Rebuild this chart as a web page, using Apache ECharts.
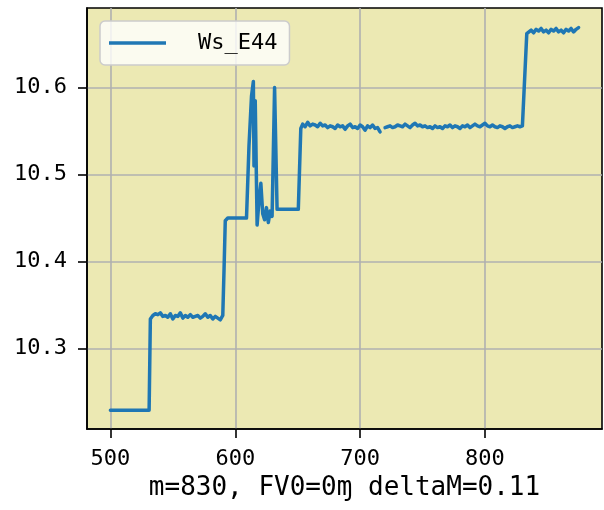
<!DOCTYPE html>
<html>
<head>
<meta charset="utf-8">
<script src="https://cdn.jsdelivr.net/npm/echarts@6/dist/echarts.min.js"></script>
<style>
  html, body { margin: 0; padding: 0; background: #fff; }
  #chart { width: 604px; height: 510px; }
</style>
</head>
<body>
<div id="chart"></div>
<script>
// values
var seriesName = "Ws_E44";
var xLabel = "m=830, FV0=0\u0271 deltaM=0.11";
var xTicks = [500, 600, 700, 800];
var yTicks = [10.3, 10.4, 10.5, 10.6];

var xs = [
  500, 531, 532, 534, 536, 538, 540, 542, 544, 546, 548, 550, 552, 554, 556, 558,
  560, 562, 564, 566, 568, 570, 572, 574, 576, 578, 580, 582, 584, 586, 588, 590,
  591, 592, 594, 609, 611, 613, 614.5, 615, 616, 617.5, 619, 620.5, 622, 623.5,
  625, 626.5, 628, 629.5, 631.5, 633.5, 650.5, 652.5,
  654, 656, 658, 660, 662, 664, 666, 668, 670, 672, 674, 676, 678, 680, 682, 684,
  686, 688, 690, 692, 694, 696, 698, 700, 702, 704, 706, 708, 710, 712, 714, 716,
  718,
  720, 722, 724, 726, 728, 730, 732, 734, 736, 738, 740, 742, 744, 746, 748, 750,
  752, 754, 756, 758, 760, 762, 764, 766, 768, 770, 772, 774, 776, 778, 780, 782,
  784, 786, 788, 790, 792, 794, 796, 798, 800, 802, 804, 806, 808, 810, 812, 814,
  816, 818, 820, 822, 824, 826, 828, 830, 831.5, 833.5,
  835, 837, 839, 841, 843, 845, 847, 849, 851, 853, 855, 857, 859, 861, 863, 865,
  867, 869, 871, 873, 875
];
var ys = [
  10.229, 10.229, 10.334, 10.338, 10.340, 10.339, 10.341, 10.337, 10.338, 10.336, 10.340, 10.334, 10.338, 10.337, 10.341, 10.335,
  10.338, 10.336, 10.339, 10.336, 10.337, 10.338, 10.335, 10.337, 10.340, 10.336, 10.338, 10.334, 10.337, 10.335, 10.333, 10.338,
  10.390, 10.447, 10.450, 10.450, 10.533, 10.590, 10.607, 10.510, 10.585, 10.442, 10.470, 10.490, 10.455, 10.448,
  10.462, 10.445, 10.458, 10.452, 10.600, 10.460, 10.460, 10.553,
  10.558, 10.555, 10.560, 10.556, 10.558, 10.557, 10.555, 10.559, 10.556, 10.557, 10.554, 10.556, 10.555, 10.553, 10.557, 10.555,
  10.556, 10.552, 10.556, 10.558, 10.554, 10.555, 10.553, 10.557, 10.555, 10.551, 10.556, 10.554, 10.557, 10.553, 10.554, 10.549,
  null,
  10.554, 10.555, 10.556, 10.554, 10.555, 10.557, 10.556, 10.555, 10.558, 10.556, 10.554, 10.557, 10.559, 10.556, 10.557, 10.555,
  10.556, 10.554, 10.555, 10.553, 10.556, 10.554, 10.555, 10.553, 10.556, 10.555, 10.557, 10.554, 10.556, 10.555, 10.553, 10.556,
  10.555, 10.557, 10.554, 10.556, 10.558, 10.556, 10.555, 10.557, 10.559, 10.556, 10.555, 10.557, 10.555, 10.554, 10.556, 10.555,
  10.553, 10.555, 10.556, 10.554, 10.555, 10.556, 10.555, 10.556, 10.556, 10.662,
  10.664, 10.666, 10.663, 10.667, 10.665, 10.668, 10.664, 10.666, 10.663, 10.667, 10.665, 10.668, 10.664, 10.666, 10.663, 10.667,
  10.665, 10.668, 10.664, 10.667, 10.669
];

var points = [];
for (var i = 0; i < xs.length; i++) {
  points.push([xs[i], ys[i]]);
}

var mono = "DejaVu Sans Mono";
var myChart = echarts.init(document.getElementById("chart"));
var option = {
  animation: false,
  backgroundColor: "#ffffff",
  grid: {
    left: 87,
    right: 2,
    top: 8,
    bottom: 81,
    show: true,
    backgroundColor: "#ece9b3",
    borderColor: "#000000",
    borderWidth: 1.6
  },
  legend: {
    left: 100,
    top: 21,
    orient: "vertical",
    icon: "rect",
    itemWidth: 57,
    itemHeight: 3.5,
    padding: [11, 12, 11, 9],
    backgroundColor: "rgba(255,255,255,0.8)",
    borderColor: "#cccccc",
    borderWidth: 1.5,
    borderRadius: 5,
    textStyle: {
      fontFamily: mono,
      fontSize: 22,
      color: "#000",
      padding: [0, 0, 0, 27]
    },
    data: [seriesName]
  },
  xAxis: {
    type: "value",
    min: 481.25,
    max: 893.75,
    name: xLabel,
    nameLocation: "middle",
    nameGap: 45,
    nameTextStyle: { fontFamily: mono, fontSize: 26, color: "#000" },
    axisLine: { show: true, onZero: false, lineStyle: { color: "#000", width: 1.6 } },
    axisTick: { show: true, length: 9, lineStyle: { color: "#000", width: 1.6 }, customValues: xTicks },
    axisLabel: { fontFamily: mono, fontSize: 22, color: "#000", margin: 19, customValues: xTicks },
    splitLine: { show: true, lineStyle: { color: "#b0b0b0", width: 1.6 } }
  },
  yAxis: {
    type: "value",
    min: 10.2075,
    max: 10.6915,
    axisLine: { show: true, onZero: false, lineStyle: { color: "#000", width: 1.6 } },
    axisTick: { show: true, length: 9, lineStyle: { color: "#000", width: 1.6 }, customValues: yTicks },
    axisLabel: {
      fontFamily: mono, fontSize: 22, color: "#000", margin: 20, customValues: yTicks,
      formatter: function (v) { return v.toFixed(1); }
    },
    splitLine: { show: true, lineStyle: { color: "#b0b0b0", width: 1.6 } }
  },
  series: [
    {
      name: seriesName,
      type: "line",
      data: points,
      showSymbol: false,
      symbol: "none",
      connectNulls: false,
      lineStyle: { color: "#1f77b4", width: 3.5, join: "round", cap: "round" },
      itemStyle: { color: "#1f77b4" }
    }
  ]
};
myChart.setOption(option);
</script>
</body>
</html>
